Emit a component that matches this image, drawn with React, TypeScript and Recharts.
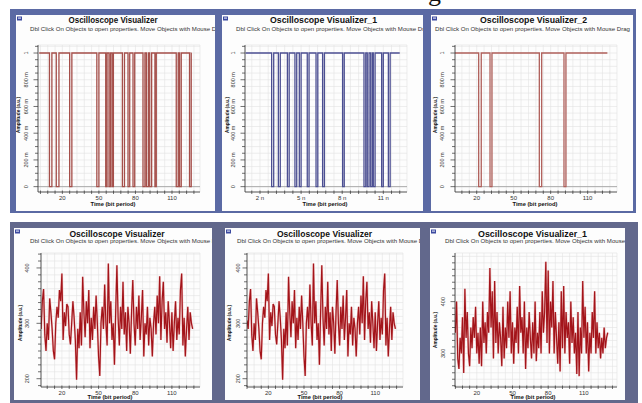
import React from 'react';
import { LineChart, Line, XAxis, YAxis, CartesianGrid, ReferenceLine } from 'recharts';

const FONT = '"Liberation Sans", Arial, sans-serif';

// ---------- DATA ----------
// Top row: binary sequences (level 1) with drops to 0, given as [start, end] in x units
const topDips1: number[][] = [
  [9.4, 11.4], [15, 17.2], [26, 27.8], [48.3, 50], [55.6, 56.7], [58.3, 59.5], [60.8, 61.9],
  [69.3, 71], [73.9, 75.3], [78, 79.4], [86.2, 87.8], [89, 90.6], [91.7, 93.3], [96, 97.1],
  [113.5, 115.1], [116.2, 117.6], [124.4, 125.8],
];
const topDips2: number[][] = [
  [2.85, 3.0], [3.34, 3.48], [4.0, 4.13], [4.55, 4.68], [4.87, 5.0], [5.45, 5.58], [6.09, 6.22],
  [6.57, 6.7], [8.03, 8.15], [9.59, 9.72], [9.83, 9.96], [10.08, 10.2], [10.27, 10.4],
  [10.88, 11.0], [11.37, 11.5],
];
const topDips3: number[][] = [[21.6, 23.7], [30.8, 32.4], [70.8, 72.7], [90.8, 92.4]];

// Bottom row: noisy received signals, one value per bit period
const noiseStartA = 2;
const bottomNoiseA: number[] = [
  305, 290, 340, 362, 280, 250, 300, 270, 345, 320, 290, 250, 235, 300, 330, 310, 360, 340, 390, 270,
  320, 295, 335, 330, 280, 262, 300, 340, 310, 270, 198, 290, 255, 320, 260, 384, 320, 275, 340, 300,
  360, 255, 310, 270, 330, 290, 350, 300, 240, 205, 300, 330, 290, 370, 300, 260, 408, 300, 340, 270,
  300, 225, 320, 405, 310, 260, 330, 290, 375, 280, 320, 250, 330, 300, 245, 320, 378, 300, 260, 330,
  290, 350, 270, 310, 360, 240, 300, 280, 330, 260, 310, 290, 240, 300, 330, 280, 350, 300, 385, 270,
  340, 375, 290, 320, 265, 340, 300, 255, 320, 250, 300, 340, 270, 310, 280, 360, 390, 260, 310, 240,
  290, 330, 270, 320, 300, 290,
];
const noiseStartB = 2;
const bottomNoiseB: number[] = [
  340, 400, 290, 270, 330, 300, 370, 262, 425, 330, 380, 300, 275, 350, 310, 370, 330, 390, 300, 340,
  280, 350, 275, 400, 320, 360, 300, 380, 340, 465, 350, 420, 290, 440, 320, 380, 300, 360, 330, 275,
  390, 290, 350, 310, 400, 330, 420, 300, 360, 280, 350, 320, 390, 300, 430, 340, 370, 300, 400, 270,
  350, 310, 380, 330, 290, 360, 300, 400, 285, 340, 310, 380, 300, 420, 340, 380, 477, 320, 460, 300,
  400, 350, 440, 300, 380, 330, 280, 360, 265, 420, 310, 430, 300, 380, 330, 360, 280, 400, 320, 370,
  300, 340, 260, 380, 256, 350, 300, 440, 330, 390, 300, 360, 265, 340, 300, 380, 330, 420, 300, 360,
  310, 340, 290, 330, 300, 350, 310, 330, 340,
];

const bitTicks = [20, 50, 80, 110];
const nsTicks = [2, 5, 8, 11];
const topYTicks = [0, 0.2, 0.4, 0.6, 0.8, 1];
const topYLabels = ['0', '200 m', '400 m', '600 m', '800 m', '1'];
const bottomYTicks = [200, 300, 400];
const bottomYTicks3 = [300, 400];

const SUBTITLE = 'Dbl Click On Objects to open properties.  Move Objects with Mouse Drag';

// ---------- helpers ----------
const buildStep = (start: number, end: number, dips: number[][]) => {
  const pts: { t: number; v: number }[] = [{ t: start, v: 1 }];
  dips.forEach(([s, e]) => {
    pts.push({ t: s, v: 0 });
    pts.push({ t: e, v: 1 });
  });
  pts.push({ t: end, v: 1 });
  return pts;
};
const buildSeries = (start: number, vals: number[]) => vals.map((v, i) => ({ t: start + i, v }));

const gridValues = (anchor: number, step: number, lo: number, hi: number) => {
  const out: number[] = [];
  let v = anchor;
  while (v - step >= lo - 1e-9) v -= step;
  for (; v <= hi + 1e-9; v += step) out.push(Math.round(v * 1000) / 1000);
  return out;
};

type Spec = {
  box: [number, number, number, number];
  plot: [number, number, number, number];
  title: string;
  titleCx: number;
  titleY: number;
  titleW: number;
  subX: number;
  subY: number;
  yLabelX: number;
  yLabelCy: number;
  yTickX: number;
  xTickY: number;
  xLabelCx: number;
  xLabelY: number;
  xDomain: [number, number];
  yDomain: [number, number];
  xMajor: number[];
  xFmt: (v: number) => string;
  xStep: number;
  yMajor: number[];
  yFmt: (v: number) => string;
  yStep: number;
  data: { t: number; v: number }[];
  color: string;
  step: boolean;
};

const near = (arr: number[], v: number) => arr.some((m) => Math.abs(m - v) < 1e-6);

const Panel = ({ s }: { s: Spec }) => {
  const [bx, by, bw, bh] = s.box;
  const [pl, pt, pr, pb] = s.plot;
  const axisX = pl - bx;
  const axisY = pb - by;
  const xTicksAll = gridValues(s.xMajor[0], s.xStep, s.xDomain[0], s.xDomain[1]);
  const yTicksAll = gridValues(s.yMajor[0], s.yStep, s.yDomain[0], s.yDomain[1]);

  const YTick = (props: any) => {
    const { y, payload } = props;
    const v = payload.value;
    const major = near(s.yMajor, v);
    const tx = s.yTickX - bx;
    return (
      <g>
        <line x1={axisX - (major ? 4.5 : 3)} x2={axisX} y1={y} y2={y} stroke="#333" strokeWidth={0.7} />
        {major && (
          <text
            x={tx}
            y={y}
            transform={`rotate(-90 ${tx} ${y})`}
            textAnchor="middle"
            dominantBaseline="central"
            fontSize={5.5}
            fontFamily={FONT}
            fill="#333"
          >
            {s.yFmt(v)}
          </text>
        )}
      </g>
    );
  };

  const XTick = (props: any) => {
    const { x, payload } = props;
    const v = payload.value;
    const major = near(s.xMajor, v);
    return (
      <g>
        <line x1={x} x2={x} y1={axisY - 1.5} y2={axisY + 2} stroke="#333" strokeWidth={0.7} />
        {major && (
          <text
            x={x}
            y={s.xTickY - by}
            textAnchor="middle"
            dominantBaseline="central"
            fontSize={6}
            fontFamily={FONT}
            fill="#333"
          >
            {s.xFmt(v)}
          </text>
        )}
      </g>
    );
  };

  return (
    <div
      style={{
        position: 'absolute',
        left: bx,
        top: by,
        width: bw,
        height: bh,
        background: '#fdfdfd',
        overflow: 'hidden',
      }}
    >
      <div style={{ position: 'absolute', left: 0, top: 0 }}>
        <LineChart
          width={bw}
          height={bh}
          data={s.data}
          margin={{ top: pt - by, right: bx + bw - pr, bottom: 0, left: 0 }}
        >
          <CartesianGrid stroke="#e2e2e2" strokeWidth={0.6} />
          <XAxis
            type="number"
            dataKey="t"
            domain={s.xDomain}
            allowDataOverflow
            ticks={xTicksAll}
            interval={0}
            tick={XTick}
            tickLine={false}
            axisLine={{ stroke: '#333', strokeWidth: 0.8 }}
            height={by + bh - pb}
          />
          <YAxis
            type="number"
            domain={s.yDomain}
            allowDataOverflow
            ticks={yTicksAll}
            interval={0}
            tick={YTick}
            tickLine={false}
            axisLine={{ stroke: '#333', strokeWidth: 0.8 }}
            width={pl - bx}
          />
          {s.step && <ReferenceLine y={0} stroke="#9a9a9a" strokeWidth={0.8} />}
          {!s.step && (
            <Line
              type="linear"
              dataKey="v"
              stroke="#efc2c2"
              strokeWidth={2.2}
              dot={false}
              isAnimationActive={false}
            />
          )}
          <Line
            type={s.step ? 'stepAfter' : 'linear'}
            dataKey="v"
            stroke={s.color}
            strokeWidth={s.step ? 1.3 : 1.2}
            dot={false}
            isAnimationActive={false}
          />
        </LineChart>
      </div>
      <svg
        width={bw}
        height={bh}
        style={{ position: 'absolute', left: 0, top: 0, pointerEvents: 'none' }}
      >
        <rect x={1} y={1.5} width={5} height={4} fill="#3c4aa0" />
        <rect x={2} y={2.5} width={3} height={1.2} fill="#d8dcf0" />
        <text
          x={s.titleCx - bx}
          y={s.titleY - by}
          textAnchor="middle"
          fontSize={9}
          fontWeight="bold"
          fontFamily={FONT}
          fill="#111"
          textLength={s.titleW}
          lengthAdjust="spacingAndGlyphs"
        >
          {s.title}
        </text>
        <text
          x={s.subX - bx}
          y={s.subY - by}
          fontSize={5.5}
          fontFamily={FONT}
          fill="#333"
          textLength={195}
          lengthAdjust="spacingAndGlyphs"
        >
          {SUBTITLE}
        </text>
        <text
          x={s.yLabelX - bx}
          y={s.yLabelCy - by}
          transform={`rotate(-90 ${s.yLabelX - bx} ${s.yLabelCy - by})`}
          textAnchor="middle"
          dominantBaseline="central"
          fontSize={6}
          fontWeight="bold"
          fontFamily={FONT}
          fill="#111"
          textLength={36}
          lengthAdjust="spacingAndGlyphs"
        >
          Amplitude (a.u.)
        </text>
        <text
          x={s.xLabelCx - bx}
          y={s.xLabelY - by}
          textAnchor="middle"
          fontSize={6}
          fontWeight="bold"
          fontFamily={FONT}
          fill="#111"
          textLength={45}
          lengthAdjust="spacingAndGlyphs"
        >
          Time (bit period)
        </text>
      </svg>
    </div>
  );
};

const bitFmt = (v: number) => String(v);
const nsFmt = (v: number) => `${v} n`;
const topYFmt = (v: number) => topYLabels[topYTicks.findIndex((m) => Math.abs(m - v) < 1e-6)] ?? '';
const numFmt = (v: number) => String(v);

const topCommon = {
  titleY: 22.5,
  subY: 31,
  yLabelCy: 115,
  xTickY: 198,
  xLabelY: 206,
  yDomain: [-0.04, 1.06] as [number, number],
  yMajor: topYTicks,
  yFmt: topYFmt,
  yStep: 0.05,
  step: true,
};

const bottomCommon = {
  titleY: 237,
  subY: 243,
  xTickY: 392.5,
  xLabelY: 399,
  step: false,
  xMajor: bitTicks,
  xFmt: bitFmt,
  xStep: 6,
  yFmt: numFmt,
  yStep: 12.5,
  color: '#a3141a',
};

const specs: Spec[] = [
  {
    ...topCommon,
    box: [16, 15, 199, 196],
    plot: [38, 45, 200, 192],
    title: 'Oscilloscope Visualizer',
    titleCx: 113,
    titleW: 89,
    subX: 30,
    yLabelX: 18,
    yTickX: 26,
    xLabelCx: 113,
    xDomain: [0, 133],
    xMajor: bitTicks,
    xFmt: bitFmt,
    xStep: 6,
    data: buildStep(1, 126, topDips1),
    color: '#a54f4a',
  },
  {
    ...topCommon,
    box: [222, 15, 201, 196],
    plot: [245, 45, 407, 192],
    title: 'Oscilloscope Visualizer_1',
    titleCx: 323.5,
    titleW: 107,
    subX: 236,
    yLabelX: 227,
    yTickX: 233,
    xLabelCx: 325,
    xDomain: [0.905, 12.73],
    xMajor: nsTicks,
    xFmt: nsFmt,
    xStep: 0.6,
    data: buildStep(0.95, 12.2, topDips2),
    color: '#4c4f92',
  },
  {
    ...topCommon,
    box: [431, 15, 202, 196],
    plot: [455, 45, 617, 192],
    title: 'Oscilloscope Visualizer_2',
    titleCx: 533.5,
    titleW: 107,
    subX: 435,
    yLabelX: 435,
    yTickX: 442,
    xLabelCx: 535,
    xDomain: [2.4, 133.8],
    xMajor: bitTicks,
    xFmt: bitFmt,
    xStep: 6,
    data: buildStep(2.4, 126, topDips3),
    color: '#b0605b',
  },
  {
    ...bottomCommon,
    box: [14, 228, 198, 172],
    plot: [41, 253, 200, 387],
    title: 'Oscilloscope Visualizer',
    titleCx: 117,
    titleW: 95,
    subX: 30,
    yLabelX: 20,
    yLabelCy: 323,
    yTickX: 27,
    xLabelCx: 110,
    xDomain: [2.9, 133],
    yDomain: [185, 427],
    yMajor: bottomYTicks,
    data: buildSeries(noiseStartA, bottomNoiseA),
  },
  {
    ...bottomCommon,
    box: [225, 228, 195, 172],
    plot: [247, 253, 403, 387],
    title: 'Oscilloscope Visualizer',
    titleCx: 324.5,
    titleW: 95,
    subX: 237,
    yLabelX: 229,
    yLabelCy: 323,
    yTickX: 238,
    xLabelCx: 320,
    xDomain: [2.0, 133.4],
    yDomain: [185, 427],
    yMajor: bottomYTicks,
    data: buildSeries(noiseStartA, bottomNoiseA),
  },
  {
    ...bottomCommon,
    box: [430, 228, 195, 172],
    plot: [455, 253, 617, 387],
    title: 'Oscilloscope Visualizer_1',
    titleCx: 532.5,
    titleW: 109,
    subX: 445,
    yLabelX: 435,
    yLabelCy: 330,
    yTickX: 443,
    xLabelCx: 533,
    xDomain: [1.7, 137.8],
    yDomain: [235, 494],
    yMajor: bottomYTicks3,
    data: buildSeries(noiseStartB, bottomNoiseB),
  },
];

export default function App() {
  return (
    <div
      style={{
        position: 'absolute',
        left: 0,
        top: 0,
        width: 642,
        height: 403,
        background: '#ffffff',
        overflow: 'hidden',
        fontFamily: FONT,
      }}
    >
      <svg width={642} height={12} style={{ position: 'absolute', left: 0, top: 0 }}>
        <text x={428} y={1} fontSize={26} fontFamily='"Liberation Serif", serif' fill="#111">
          g
        </text>
      </svg>
      <div style={{ position: 'absolute', left: 10, top: 9, width: 626, height: 204, background: '#5b6aa4' }} />
      <div style={{ position: 'absolute', left: 10, top: 222, width: 628, height: 181, background: '#62688c' }} />
      {specs.map((s, i) => (
        <Panel key={i} s={s} />
      ))}
    </div>
  );
}
